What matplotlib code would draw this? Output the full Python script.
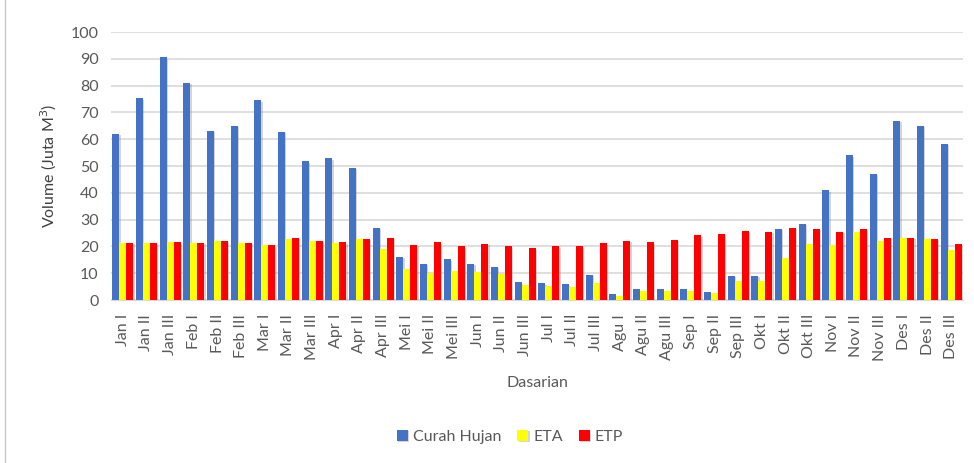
import numpy as np
import matplotlib.pyplot as plt
import matplotlib.patheffects as pe

plt.rcParams['font.family'] = ['Lato', 'DejaVu Sans']

# dasarian (10-day periods)
labels = ["Jan I", "Jan II", "Jan III", "Feb I", "Feb II", "Feb III",
          "Mar I", "Mar II", "Mar III", "Apr I", "Apr II", "Apr III",
          "Mei I", "Mei II", "Mei III", "Jun I", "Jun II", "Jun III",
          "Jul I", "Jul II", "Jul III", "Agu I", "Agu II", "Agu III",
          "Sep I", "Sep II", "Sep III", "Okt I", "Okt II", "Okt III",
          "Nov I", "Nov II", "Nov III", "Des I", "Des II", "Des III"]

curah_hujan = [61.9, 75.2, 90.5, 81.1, 63.1, 64.9, 74.5, 62.7, 51.8, 52.9, 49.4, 27.0,
               16.2, 13.4, 15.2, 13.4, 12.4, 6.6, 6.3, 5.9, 9.3, 2.1, 4.0, 4.0,
               4.0, 2.9, 9.0, 9.0, 26.5, 28.5, 41.0, 54.0, 47.1, 66.9, 65.0, 58.2]
eta = [21.3, 21.3, 21.6, 21.3, 22.0, 21.3, 20.4, 22.8, 22.1, 21.1, 22.8, 19.0,
       11.4, 10.2, 10.9, 10.6, 9.7, 5.6, 5.3, 5.0, 6.2, 1.6, 3.4, 3.4,
       3.4, 2.5, 7.1, 7.1, 15.5, 20.9, 20.4, 25.4, 22.0, 23.1, 22.8, 18.8]
etp = [21.3, 21.3, 21.6, 21.3, 22.0, 21.3, 20.4, 23.1, 22.1, 21.6, 22.8, 23.1,
       20.5, 21.6, 20.1, 20.9, 20.1, 19.3, 20.0, 20.0, 21.1, 22.0, 21.5, 22.4,
       24.1, 24.7, 25.9, 25.4, 27.0, 26.6, 25.4, 26.6, 23.1, 23.1, 22.8, 20.8]

fig = plt.figure(figsize=(9.74, 4.63), dpi=100)
ax = fig.add_axes([111 / 974, 1 - 300 / 463, (963 - 111) / 974, (300 - 32) / 463])

x = np.arange(len(labels))
w = 0.295
shadow = [pe.SimplePatchShadow(offset=(1, -1), shadow_rgbFace='#888888', alpha=0.35), pe.Normal()]
series = [(curah_hujan, "#4472C4", "Curah Hujan"), (eta, "#FFFF00", "ETA"), (etp, "#FF0000", "ETP")]
for i, (vals, col, name) in enumerate(series):
    bars = ax.bar(x + (i - 1) * w, vals, width=w, color=col, label=name, zorder=3)
    for b in bars:
        b.set_path_effects(shadow)

ax.set_xlim(-0.5, len(labels) - 0.5)
ax.set_ylim(0, 100)
ax.set_yticks(range(0, 101, 10))
ax.set_xticks(x)
ax.set_xticklabels(labels, rotation=90)
ax.tick_params(axis='both', length=0, labelsize=11.5, colors='#595959')
ax.tick_params(axis='y', pad=9)
ax.tick_params(axis='x', pad=10)
ax.grid(axis='y', color='#D9D9D9', linewidth=1.2, zorder=0)
for s in ['top', 'right', 'left']:
    ax.spines[s].set_visible(False)
ax.spines['bottom'].set_color('#D9D9D9')

ax.set_ylabel("Volume (Juta M$^3$)", fontsize=11.5, color='#404040', labelpad=8)
ax.set_xlabel("Dasarian", fontsize=11.5, color='#595959', labelpad=11)

fig.legend(loc='center', bbox_to_anchor=(510 / 974, 1 - 437 / 463), ncol=3, frameon=False,
           fontsize=11.5, handlelength=0.7, handleheight=0.7, handletextpad=0.3,
           columnspacing=1.0, labelcolor='#595959')

fig.add_artist(plt.Line2D([5 / 974, 5 / 974], [0, 1], color='#C8C8C8', linewidth=1))

fig.savefig("out.png", dpi=100)
